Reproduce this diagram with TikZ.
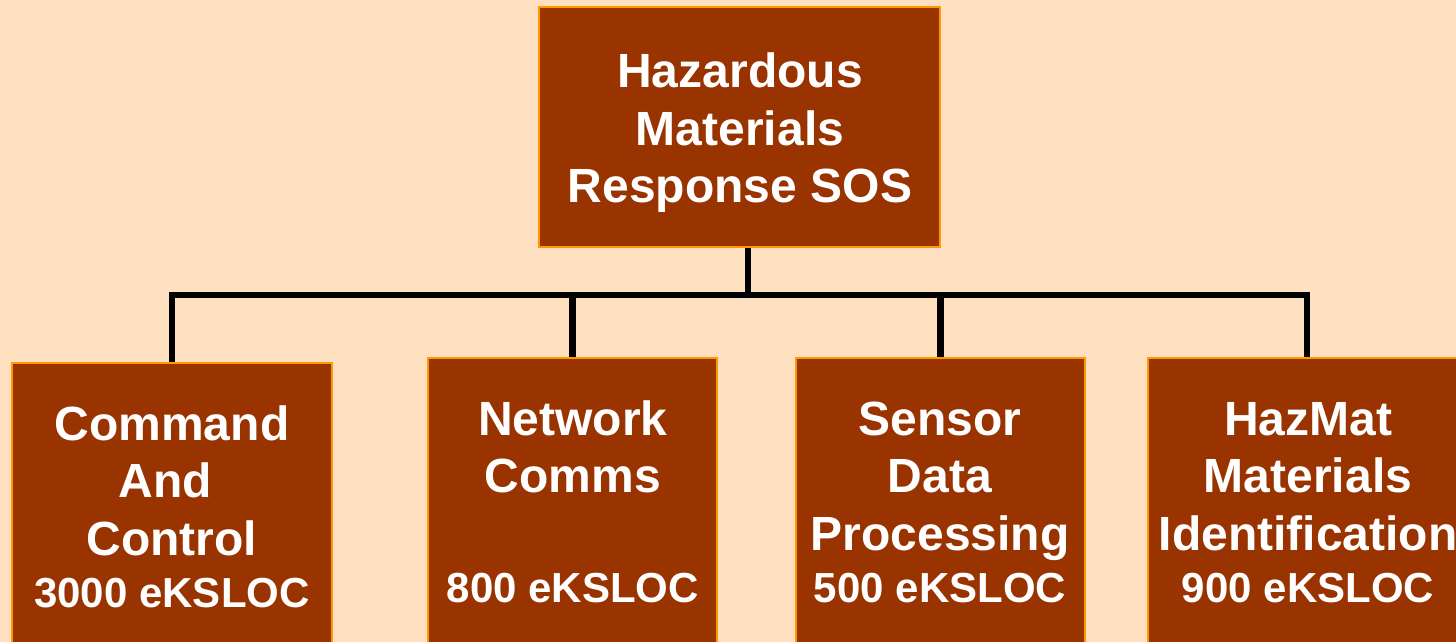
\documentclass[tikz,border=0pt]{standalone}
\usepackage{fontspec}
\setmainfont{Liberation Sans}
\definecolor{bgpeach}{RGB}{255,224,192}
\definecolor{boxbrown}{RGB}{153,51,0}
\definecolor{boxedge}{RGB}{255,153,0}
\newcommand{\cntline}[1]{{\fontsize{42}{50}\selectfont #1}}
\pgfdeclarelayer{back}
\pgfdeclarelayer{lines}
\pgfsetlayers{back,lines,main}
\begin{document}
\begin{tikzpicture}[x=1pt,y=-1pt,
  box/.style={draw=boxedge, line width=2pt, fill=boxbrown, rectangle, inner sep=0pt, outer sep=0pt, anchor=north west},
  txt/.style={anchor=base, inner sep=0pt, text=white, font=\fontsize{48}{57.5}\selectfont\bfseries},
  conn/.style={draw=black, line width=6.5pt, line join=miter}]
\useasboundingbox (0,0) rectangle (1456,642);
\begin{pgfonlayer}{back}
\fill[bgpeach] (0,0) rectangle (1456,642);
\end{pgfonlayer}
% boxes
\node[box, minimum width=401pt, minimum height=240pt] (top) at (539,7) {};
\node[box, minimum width=320pt, minimum height=307pt] (b1) at (12,363) {};
\node[box, minimum width=289pt, minimum height=312pt] (b2) at (428,358) {};
\node[box, minimum width=289pt, minimum height=312pt] (b3) at (796,358) {};
\node[box, minimum width=318pt, minimum height=312pt] (b4) at (1148,358) {};
% texts
\node[txt] (ttop) at (740,88) {\begin{tabular}[t]{@{}c@{}}Hazardous\\ Materials\\ Response SOS\end{tabular}};
\node[txt] (t1) at (172,440) {\begin{tabular}[t]{@{}c@{}}Command\\ And\kern13pt\\ Control\\[-5.5pt] \cntline{3000 eKSLOC}\end{tabular}};
\node[txt] (t2) at (573,435) {\begin{tabular}[t]{@{}c@{}}Network\\ Comms\\ \\[-5.5pt] \cntline{800 eKSLOC}\end{tabular}};
\node[txt] (t3) at (940,435) {\begin{tabular}[t]{@{}c@{}}Sensor\\ Data\\ Processing\\[-5.5pt] \cntline{500 eKSLOC}\end{tabular}};
\node[txt] (t4) at (1308,435) {\begin{tabular}[t]{@{}c@{}}HazMat\\ Materials\\ Identification\\[-5.5pt] \cntline{900 eKSLOC}\end{tabular}};
% connector points
\coordinate (topc) at ([xshift=8.5pt]top.south);
\coordinate (bus) at (748,295);
% connectors, under the boxes
\begin{pgfonlayer}{lines}
\draw[conn] (b1.north) |- (bus) -| (b4.north);
\draw[conn] (topc) -- (topc |- bus);
\draw[conn] (b2.north) -- (b2.north |- bus);
\draw[conn] (b3.north) -- (b3.north |- bus);
\end{pgfonlayer}
\end{tikzpicture}
\end{document}
